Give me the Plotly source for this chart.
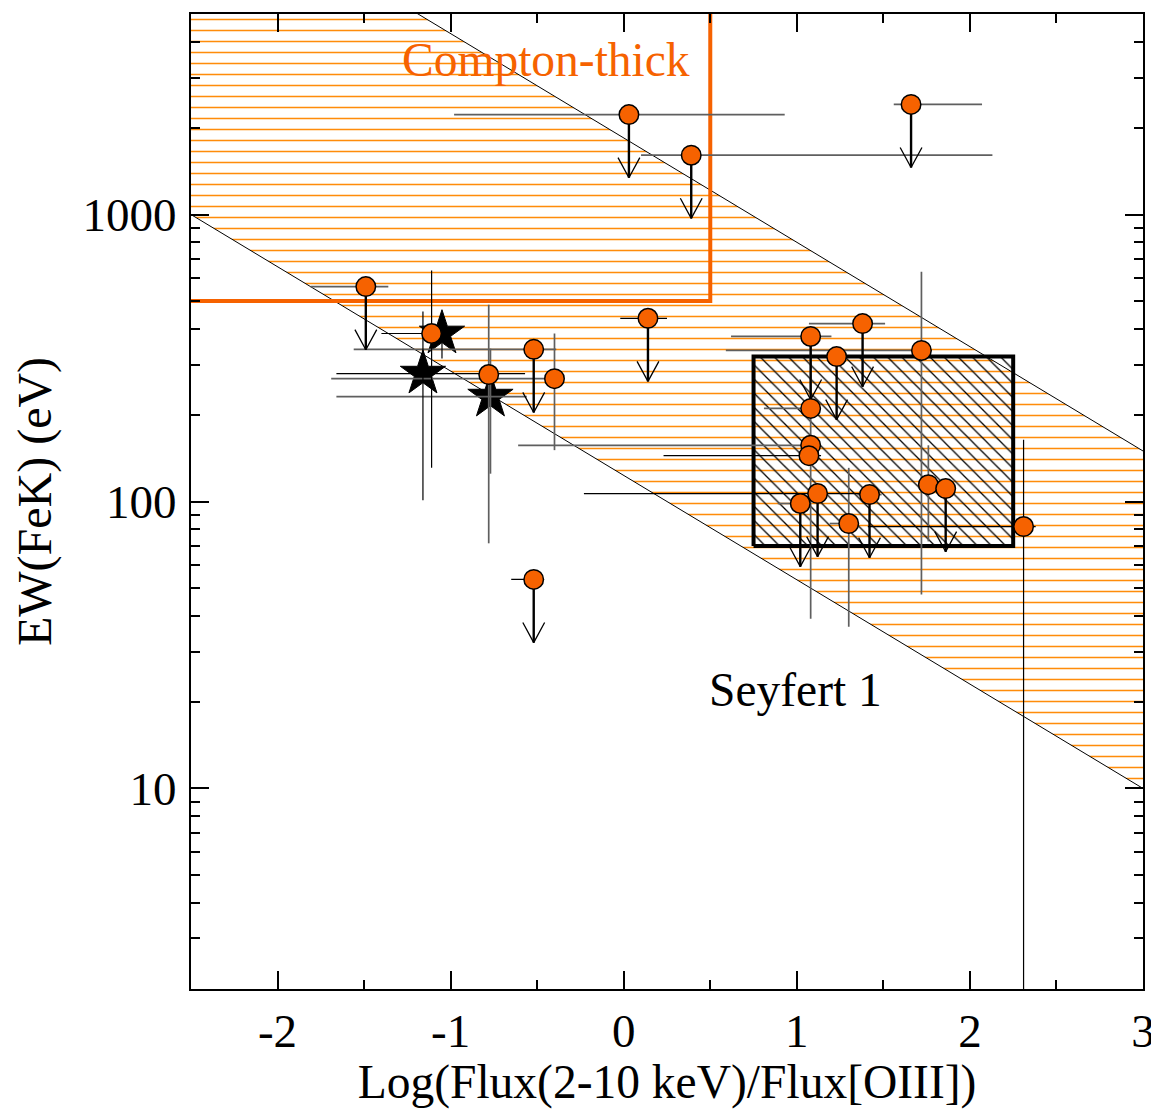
import numpy as np
import plotly.graph_objects as go

# ---------------- data ----------------
circ_x = [0.03, 0.39, 1.66, -1.49, -1.11, -0.52, -0.78, -0.40, -0.52, 0.14, 1.08, 1.38,
          1.23, 1.72, 1.08, 1.08, 1.07, 1.02, 1.12, 1.30, 1.42, 1.76, 1.86, 2.31]
circ_y = [2230, 1610, 2420, 561, 385, 339, 277, 268, 53.5, 435, 376, 417,
          320, 336, 211, 157, 144.5, 98.4, 106.6, 83.8, 105.7, 114.5, 110.9, 81.8]
circ_upper = [1, 1, 1, 1, 0, 1, 0, 0, 1, 1, 1, 1,
              1, 0, 0, 0, 0, 1, 1, 0, 1, 0, 1, 0]
circ_xerr_minus = [1.01, 0.29, 0.10, 0.32, 0.29, 1.04, 0.0, 1.29, 0.13, 0.16, 0.46, 0.31,
                   0.0, 1.13, 0.27, 1.69, 0.84, 0.13, 1.35, 0.11, 0.07, 0.0, 0.0, 0.90]
circ_xerr_plus = [0.90, 1.74, 0.41, 0.13, 0.02, 0.13, 0.0, 0.0, 0.06, 0.11, 0.12, 0.13,
                  0.0, 0.06, 0.0, 0.0, 0.07, 0.0, 0.25, 0.0, 0.07, 0.0, 0.0, 0.07]
circ_y_hi = [None, None, None, None, 638, None, 485, 385, None, None, None, None,
             None, 632, 382, None, None, None, None, 131, None, 157, None, 164]
circ_y_lo = [None, None, None, None, 131, None, 71.5, 151, None, None, None, None,
             None, 47.4, 39, None, None, None, None, 36.6, None, 72.6, None, 1.0]
circ_err_black = [0, 0, 0, 0, 1, 0, 0, 0, 1, 1, 0, 0,
                  0, 0, 0, 0, 1, 0, 1, 0, 0, 0, 0, 1]

star_x = [-1.05, -1.16, -0.77]
star_y = [385, 279, 232]
star_xerr_minus = [0.0, 0.50, 0.89]
star_xerr_plus = [0.0, 0.59, 0.21]
star_y_hi = [385, 459, 341]
star_y_lo = [315, 101, 125]
star_err_black = [1, 1, 0]

band_x = [-2.5, 3.0]
band_lower = [1000, 10]
band_upper = [15000, 150]

ct_x = [-2.5, 0.5, 0.5]
ct_y = [500, 500, 5000]

sy1_x = [0.75, 2.25]
sy1_y = [70, 320]

x_ticks = [-2, -1, 0, 1, 2, 3]
x_ticklabels = ["-2", "-1", "0", "1", "2", "3"]
y_ticks = [10, 100, 1000]
y_ticklabels = ["10", "100", "1000"]

x_title = "Log(Flux(2-10 keV)/Flux[OIII])"
y_title = "EW(FeK) (eV)"
ct_label = "Compton-thick"
ct_label_pos = (-0.45, 3450)
sy1_label = "Seyfert 1"
sy1_label_pos = (0.99, 22.1)

# ---------------- styles ----------------
ORANGE = "rgb(246,98,0)"
HATCH_ORANGE = "rgb(255,140,10)"
GRAY = "rgb(95,95,95)"
FONT = "Liberation Serif"
ARROW_DEX = 0.22      # length of upper-limit arrows (dex)
HEAD_DX = 0.063       # half width of arrow head (x units)
HEAD_DEX = 0.07       # height of arrow head (dex)

fig = go.Figure()

# hatched orange band between the two diagonal lines
fig.add_trace(go.Scatter(
    x=[band_x[0], band_x[0], band_x[1], band_x[1]],
    y=[band_lower[0], band_upper[0], band_upper[1], band_lower[1]],
    mode="none", fill="toself", fillcolor="rgba(0,0,0,0)",
    fillpattern=dict(shape="-", size=11, solidity=0.14, fgcolor=HATCH_ORANGE,
                     bgcolor="rgba(0,0,0,0)", fillmode="replace"),
    hoverinfo="skip"))

# Seyfert 1 box hatch
fig.add_trace(go.Scatter(
    x=[sy1_x[0], sy1_x[1], sy1_x[1], sy1_x[0]],
    y=[sy1_y[0], sy1_y[0], sy1_y[1], sy1_y[1]],
    mode="none", fill="toself", fillcolor="rgba(0,0,0,0)",
    fillpattern=dict(shape="\\", size=10, solidity=0.13, fgcolor="black",
                     bgcolor="rgba(0,0,0,0)", fillmode="replace"),
    hoverinfo="skip"))

# diagonal boundary lines
for yy in (band_lower, band_upper):
    fig.add_trace(go.Scatter(x=band_x, y=yy, mode="lines",
                             line=dict(color="black", width=1), hoverinfo="skip"))

# Compton-thick boundary
fig.add_trace(go.Scatter(x=ct_x, y=ct_y, mode="lines",
                         line=dict(color=ORANGE, width=4), hoverinfo="skip"))

# Seyfert 1 box outline
fig.add_trace(go.Scatter(
    x=[sy1_x[0], sy1_x[1], sy1_x[1], sy1_x[0], sy1_x[0]],
    y=[sy1_y[0], sy1_y[0], sy1_y[1], sy1_y[1], sy1_y[0]],
    mode="lines", line=dict(color="black", width=4), hoverinfo="skip"))

# stars
fig.add_trace(go.Scatter(x=star_x, y=star_y, mode="markers",
                         marker=dict(symbol="star", size=34, color="black",
                                     line=dict(color="black", width=1)),
                         hoverinfo="skip"))


def err_trace(xs, ys, xm, xp, yh, yl, color, width):
    ys = np.array(ys, dtype=float)
    yh = np.array([v if v is not None else np.nan for v in yh], dtype=float)
    yl = np.array([v if v is not None else np.nan for v in yl], dtype=float)
    ep = np.where(np.isnan(yh), 0.0, yh - ys)
    em = np.where(np.isnan(yl), 0.0, ys - yl)
    return go.Scatter(
        x=xs, y=ys, mode="markers",
        marker=dict(size=1, color="rgba(0,0,0,0)"),
        error_x=dict(type="data", symmetric=False, array=xp, arrayminus=xm,
                     color=color, thickness=width, width=0),
        error_y=dict(type="data", symmetric=False, array=ep, arrayminus=em,
                     color=color, thickness=width, width=0),
        hoverinfo="skip")


all_x = circ_x + star_x
all_y = circ_y + star_y
all_xm = circ_xerr_minus + star_xerr_minus
all_xp = circ_xerr_plus + star_xerr_plus
all_yh = circ_y_hi + star_y_hi
all_yl = circ_y_lo + star_y_lo
all_blk = circ_err_black + star_err_black

for flag, col, wid in ((0, GRAY, 1.7), (1, "black", 1.2)):
    idx = [i for i, b in enumerate(all_blk) if b == flag]
    fig.add_trace(err_trace([all_x[i] for i in idx], [all_y[i] for i in idx],
                            [all_xm[i] for i in idx], [all_xp[i] for i in idx],
                            [all_yh[i] for i in idx], [all_yl[i] for i in idx],
                            col, wid))

# upper-limit arrows
stem_x, stem_y, head_x, head_y = [], [], [], []
for x, y, u in zip(circ_x, circ_y, circ_upper):
    if not u:
        continue
    tip = y * 10 ** (-ARROW_DEX)
    stem_x += [x, x, None]
    stem_y += [y, tip, None]
    head_x += [x - HEAD_DX, x, x + HEAD_DX, None]
    head_y += [tip * 10 ** HEAD_DEX, tip, tip * 10 ** HEAD_DEX, None]
fig.add_trace(go.Scatter(x=stem_x, y=stem_y, mode="lines",
                         line=dict(color="black", width=2.4), hoverinfo="skip"))
fig.add_trace(go.Scatter(x=head_x, y=head_y, mode="lines",
                         line=dict(color="black", width=1.3), hoverinfo="skip"))

# circles
fig.add_trace(go.Scatter(x=circ_x, y=circ_y, mode="markers",
                         marker=dict(symbol="circle", size=19.5, color=ORANGE,
                                     line=dict(color="black", width=1.5)),
                         hoverinfo="skip"))

fig.add_annotation(x=ct_label_pos[0], y=np.log10(ct_label_pos[1]), text=ct_label,
                   showarrow=False, font=dict(family=FONT, size=47.5, color=ORANGE))
fig.add_annotation(x=sy1_label_pos[0], y=np.log10(sy1_label_pos[1]), text=sy1_label,
                   showarrow=False, font=dict(family=FONT, size=47.5, color="black"))

y_minor = [m * 10 ** d for d in range(0, 4) for m in range(2, 10) if 2 <= m * 10 ** d <= 5000]

# the page body adds an 8px offset, so margins are reduced accordingly
fig.update_layout(
    width=1151, height=1101,
    margin=dict(l=183, r=13, t=4, b=120),
    plot_bgcolor="white", paper_bgcolor="white",
    showlegend=False,
    font=dict(family=FONT, size=47, color="black"),
    xaxis=dict(range=[-2.5, 3], tickmode="array", tickvals=x_ticks, ticktext=x_ticklabels,
               ticks="inside", ticklen=18, tickwidth=1.5, tickcolor="black",
               showline=True, linewidth=2, linecolor="black", mirror="ticks",
               showgrid=False, zeroline=False,
               minor=dict(tickmode="linear", tick0=0, dtick=0.5, ticks="inside", ticklen=9,
                          tickwidth=1.5, tickcolor="black", showgrid=False),
               title=dict(text=x_title, font=dict(family=FONT, size=47.5), standoff=6),
               tickfont=dict(family=FONT, size=47)),
    yaxis=dict(type="log", range=[np.log10(2), np.log10(5000)], tickmode="array",
               tickvals=y_ticks, ticktext=y_ticklabels,
               ticks="inside", ticklen=18, tickwidth=1.5, tickcolor="black",
               showline=True, linewidth=2, linecolor="black", mirror="ticks",
               showgrid=False, zeroline=False,
               minor=dict(tickmode="array", tickvals=y_minor, ticks="inside", ticklen=9,
                          tickwidth=1.5, tickcolor="black", showgrid=False),
               title=dict(text=y_title, font=dict(family=FONT, size=48), standoff=34),
               ticklabelstandoff=3,
               tickfont=dict(family=FONT, size=47)),
)

fig.write_html("out.html")
